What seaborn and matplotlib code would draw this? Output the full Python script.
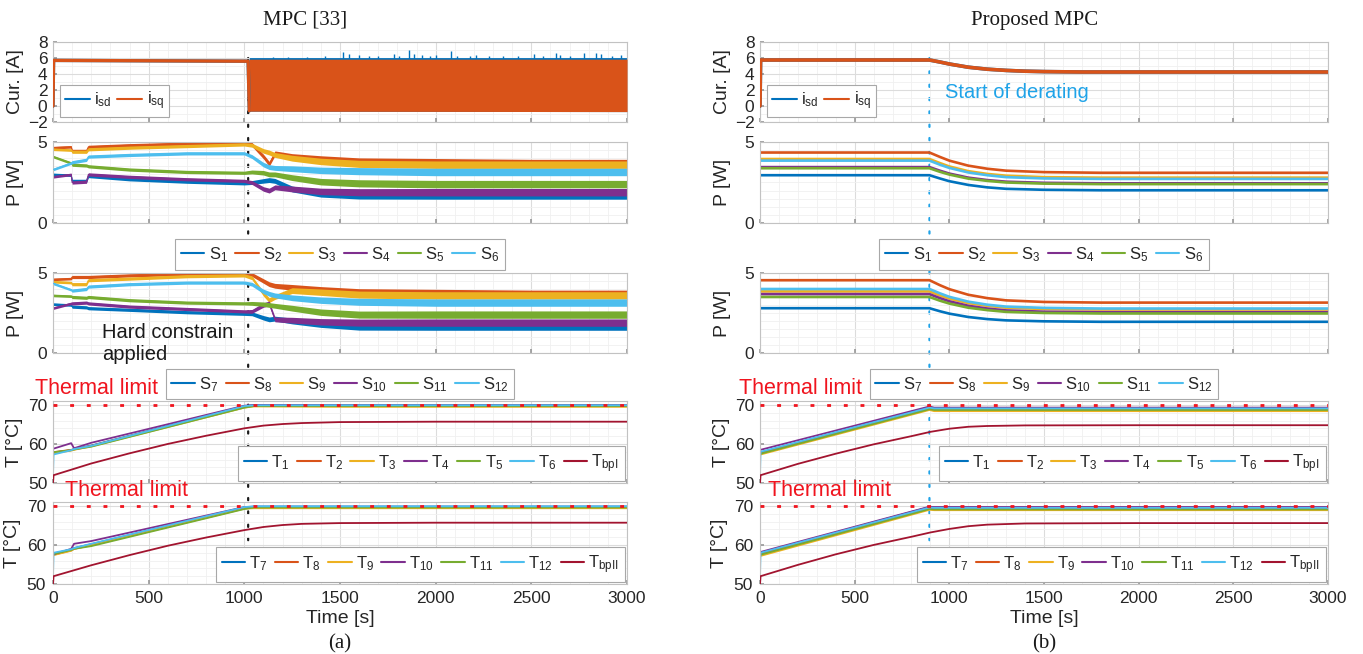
import numpy as np
import pandas as pd
import matplotlib
matplotlib.use("Agg")
import matplotlib.pyplot as plt
import seaborn as sns
from matplotlib.lines import Line2D
from matplotlib.patches import ConnectionPatch

sns.set_theme(style="white")
plt.rcParams["font.family"] = ["Liberation Sans", "DejaVu Sans"]
plt.rcParams["mathtext.fontset"] = "custom"
plt.rcParams["mathtext.rm"] = "Liberation Sans"
plt.rcParams["mathtext.it"] = "Liberation Sans:italic"

# MATLAB default colour order
C = ["#0072BD", "#D95319", "#EDB120", "#7E2F8E", "#77AC30", "#4DBEEE", "#A2142F"]
DERATE_BLUE = "#1FA3E8"
LIMIT_RED = "#F0141E"

# ---------------- data: MPC [33] (left) ----------------
T_SWITCH_L = 1020          # hard constraint applied [s]
T_DERATE_R = 895           # start of derating [s]

# current before the constraint (line) and after it (switching band)
T_CUR_L = [0, 3, 1020, 1026]
ISQ_L = [0.0, 5.7, 5.6, -0.6]
T_BAND_L = [1026, 3000]
ISQ_LO_L = [-0.65, -0.7]
ISQ_HI_L = [5.85, 5.85]
ISD_HI_L = [6.05, 6.05]
ISD_SPIKE_T = [1150, 1230, 1330, 1420, 1517, 1545, 1600, 1650, 1700, 1780, 1810, 1860,
               1885, 1930, 1970, 2000, 2078, 2110, 2180, 2210, 2280, 2350, 2430, 2513,
               2560, 2627, 2650, 2700, 2776, 2840, 2865, 2920, 2970]
ISD_SPIKE_V = [6.15, 6.1, 6.15, 6.2, 6.7, 6.5, 6.35, 6.3, 6.3, 6.5, 6.3, 7.0,
               6.5, 6.35, 6.3, 6.4, 6.9, 6.3, 6.3, 6.4, 6.3, 6.25, 6.3, 6.5,
               6.3, 6.6, 6.35, 6.3, 6.6, 6.6, 6.5, 6.3, 6.35]

# switch losses (band centre and half-width)
T_P_L = [0, 95, 100, 175, 185, 400, 700, 1000, 1040, 1100, 1130, 1160, 1250, 1400, 1600, 2000, 2500, 3000]
SPREAD_P_L = [0.08, 0.08, 0.1, 0.1, 0.1, 0.1, 0.1, 0.1, 0.12, 0.14, 0.15, 0.15, 0.18, 0.2, 0.22, 0.23, 0.23, 0.23]
S1_L = [3.0, 2.95, 2.6, 2.6, 2.9, 2.7, 2.55, 2.45, 2.5, 2.6, 2.65, 2.6, 2.1, 1.8, 1.7, 1.7, 1.7, 1.7]
S2_L = [4.65, 4.7, 4.45, 4.45, 4.7, 4.8, 4.9, 4.95, 4.85, 4.1, 3.65, 4.3, 4.1, 3.95, 3.8, 3.75, 3.7, 3.7]
S3_L = [4.55, 4.5, 4.4, 4.4, 4.55, 4.65, 4.75, 4.85, 4.8, 4.45, 4.35, 4.2, 4.0, 3.8, 3.65, 3.6, 3.6, 3.6]
S4_L = [2.85, 3.0, 2.5, 2.55, 3.0, 2.85, 2.7, 2.6, 2.5, 2.1, 2.0, 2.2, 2.1, 1.95, 1.9, 1.9, 1.9, 1.9]
S5_L = [4.1, 3.7, 3.6, 3.55, 3.5, 3.3, 3.15, 3.1, 3.15, 3.1, 3.0, 3.0, 2.8, 2.55, 2.45, 2.4, 2.4, 2.4]
S6_L = [3.3, 3.7, 3.75, 3.9, 4.1, 4.2, 4.3, 4.3, 4.1, 3.6, 3.45, 3.4, 3.35, 3.25, 3.2, 3.15, 3.15, 3.15]
S7_L = [3.05, 3.0, 2.9, 2.85, 2.8, 2.7, 2.55, 2.45, 2.45, 2.2, 2.1, 2.15, 2.0, 1.8, 1.65, 1.65, 1.65, 1.65]
S8_L = [4.6, 4.65, 4.75, 4.75, 4.75, 4.85, 4.95, 5.0, 4.9, 4.5, 4.3, 4.2, 4.1, 3.95, 3.8, 3.75, 3.7, 3.7]
S9_L = [4.45, 4.4, 4.3, 4.3, 4.55, 4.65, 4.8, 4.85, 4.7, 3.7, 3.3, 3.5, 3.9, 3.8, 3.65, 3.6, 3.6, 3.6]
S10_L = [2.8, 3.1, 3.1, 3.15, 3.1, 2.9, 2.75, 2.6, 2.6, 3.0, 3.1, 2.1, 2.05, 1.95, 1.9, 1.9, 1.9, 1.9]
S11_L = [3.6, 3.55, 3.5, 3.45, 3.5, 3.3, 3.15, 3.1, 3.1, 3.05, 3.0, 2.95, 2.8, 2.55, 2.4, 2.4, 2.4, 2.4]
S12_L = [4.35, 3.95, 3.9, 4.0, 4.15, 4.3, 4.4, 4.4, 4.3, 3.85, 3.7, 3.6, 3.45, 3.3, 3.2, 3.15, 3.15, 3.15]

# temperatures
T_T_L = [0, 3, 95, 110, 200, 1000, 1050, 1500, 3000]
T1_L = [57.8, 57.8, 58.4, 58.7, 59.6, 69.6, 69.9, 69.9, 69.9]
T2_L = [57.9, 57.9, 58.5, 58.6, 59.5, 69.5, 69.8, 69.8, 69.8]
T3_L = [57.6, 57.6, 58.3, 58.5, 59.4, 69.3, 69.6, 69.5, 69.5]
T4_L = [58.8, 58.8, 60.2, 58.9, 60.3, 69.8, 70.0, 69.9, 69.9]
T5_L = [57.9, 57.9, 58.4, 58.6, 59.3, 69.3, 69.7, 69.7, 69.7]
T6_L = [52.0, 57.3, 58.4, 58.7, 59.5, 69.7, 69.9, 69.9, 69.9]
T7_L = [57.8, 57.8, 58.8, 59.2, 60.2, 69.6, 69.8, 69.8, 69.8]
T8_L = [57.5, 57.5, 58.6, 59.0, 60.0, 69.5, 69.7, 69.7, 69.7]
T9_L = [57.4, 57.4, 58.5, 59.0, 59.9, 69.3, 69.4, 69.4, 69.4]
T10_L = [57.6, 57.6, 59.0, 60.3, 61.0, 69.7, 69.8, 69.8, 69.8]
T11_L = [57.7, 57.7, 58.7, 59.0, 59.7, 69.2, 69.6, 69.6, 69.6]
T12_L = [52.0, 58.0, 58.9, 59.2, 60.3, 69.7, 69.9, 69.9, 69.9]
T_BP_L = [0, 3, 200, 400, 600, 800, 1000, 1100, 1200, 1300, 1500, 2000, 3000]
TBPI_L = [50.0, 52.0, 55.0, 57.6, 60.0, 62.1, 64.0, 64.7, 65.1, 65.35, 65.6, 65.7, 65.7]
TBPII_L = [50.0, 52.0, 54.8, 57.4, 59.8, 61.9, 63.8, 64.6, 65.1, 65.4, 65.6, 65.7, 65.7]

# ---------------- data: proposed MPC (right) ----------------
T_CUR_R = [0, 3, 895, 950, 1000, 1100, 1200, 1300, 1400, 1500, 1700, 3000]
ISD_R = [0.0, 5.75, 5.75, 5.5, 5.25, 4.85, 4.6, 4.45, 4.35, 4.3, 4.25, 4.25]
ISQ_R = [0.0, 5.75, 5.75, 5.5, 5.25, 4.85, 4.6, 4.45, 4.35, 4.3, 4.25, 4.25]

T_P_R = [0, 895, 950, 1000, 1100, 1200, 1300, 1500, 1800, 3000]
S1_R = [2.95, 2.95, 2.75, 2.58, 2.35, 2.2, 2.11, 2.05, 2.02, 2.02]
S2_R = [4.35, 4.35, 4.08, 3.85, 3.54, 3.35, 3.23, 3.14, 3.1, 3.1]
S3_R = [3.95, 3.95, 3.7, 3.49, 3.2, 3.03, 2.92, 2.83, 2.8, 2.8]
S4_R = [3.45, 3.45, 3.23, 3.05, 2.8, 2.65, 2.55, 2.48, 2.45, 2.45]
S5_R = [3.38, 3.38, 3.16, 2.99, 2.74, 2.6, 2.5, 2.43, 2.4, 2.4]
S6_R = [3.85, 3.85, 3.6, 3.4, 3.12, 2.95, 2.83, 2.75, 2.72, 2.72]
S7_R = [2.8, 2.8, 2.61, 2.46, 2.25, 2.12, 2.04, 1.98, 1.95, 1.95]
S8_R = [4.55, 4.55, 4.24, 3.99, 3.64, 3.43, 3.29, 3.19, 3.15, 3.15]
S9_R = [3.85, 3.85, 3.6, 3.4, 3.12, 2.95, 2.83, 2.75, 2.72, 2.72]
S10_R = [3.68, 3.68, 3.43, 3.23, 2.95, 2.78, 2.66, 2.58, 2.55, 2.55]
S11_R = [3.5, 3.5, 3.27, 3.09, 2.83, 2.68, 2.57, 2.5, 2.47, 2.47]
S12_R = [4.0, 4.0, 3.73, 3.51, 3.21, 3.02, 2.9, 2.82, 2.78, 2.78]

T_T_R = [0, 3, 895, 920, 3000]
T1_R = [57.8, 57.8, 69.2, 69.0, 69.0]
T2_R = [57.6, 57.6, 69.0, 68.8, 68.8]
T3_R = [57.3, 57.3, 68.7, 68.4, 68.4]
T4_R = [58.5, 58.5, 69.6, 69.3, 69.3]
T5_R = [57.5, 57.5, 68.9, 68.7, 68.7]
T6_R = [52.0, 58.0, 69.3, 69.1, 69.1]
T7_R = [57.9, 57.9, 69.7, 69.6, 69.6]
T8_R = [57.6, 57.6, 69.4, 69.3, 69.3]
T9_R = [57.2, 57.2, 69.0, 68.9, 68.9]
T10_R = [58.2, 58.2, 69.8, 69.7, 69.7]
T11_R = [57.5, 57.5, 69.2, 69.1, 69.1]
T12_R = [52.0, 58.0, 69.6, 69.5, 69.5]
T_BP_R = [0, 3, 200, 400, 600, 800, 900, 1000, 1100, 1200, 1400, 2000, 3000]
TBPI_R = [50.0, 52.0, 54.9, 57.5, 59.9, 62.0, 63.1, 63.9, 64.4, 64.6, 64.75, 64.8, 64.8]
TBPII_R = [50.0, 52.0, 54.9, 57.6, 60.0, 62.1, 63.2, 64.1, 64.8, 65.2, 65.5, 65.6, 65.6]

THERMAL_LIMIT = 70

S_LABELS_A = [r"$\mathregular{S_{%d}}$" % i for i in range(1, 7)]
S_LABELS_B = [r"$\mathregular{S_{%d}}$" % i for i in range(7, 13)]
T_LABELS_A = [r"$\mathregular{T_{%d}}$" % i for i in range(1, 7)] + [r"$\mathregular{T_{bpI}}$"]
T_LABELS_B = [r"$\mathregular{T_{%d}}$" % i for i in range(7, 13)] + [r"$\mathregular{T_{bpII}}$"]
I_LABELS = [r"$\mathregular{i_{sd}}$", r"$\mathregular{i_{sq}}$"]

# ---------------- figure layout (pixel rows/cols) ----------------
W, H = 1363, 654
fig = plt.figure(figsize=(W / 100, H / 100), dpi=100)
fig.patch.set_facecolor("white")

COLS = [(53, 627), (760, 1328)]
ROWS = [(42, 122), (142, 223), (273, 353), (401, 483), (502, 584)]


def make_axes(col):
    x0, x1 = COLS[col]
    axs = []
    for (y0, y1) in ROWS:
        axs.append(fig.add_axes([x0 / W, 1 - y1 / H, (x1 - x0) / W, (y1 - y0) / H]))
    return axs


def style(ax, ylim, yticks, yminor, show_x=False):
    ax.set_xlim(0, 3000)
    ax.set_ylim(*ylim)
    ax.set_xticks(np.arange(0, 3001, 500))
    ax.set_xticks(np.arange(0, 3001, 100), minor=True)
    ax.set_yticks(yticks)
    ax.set_yticks(yminor, minor=True)
    ax.grid(which="major", color="#dcdcdc", lw=0.8)
    ax.grid(which="minor", color="#f0f0f0", lw=0.6)
    ax.set_axisbelow(True)
    ax.set_facecolor("none")
    for s in ax.spines.values():
        s.set_color("#c2c2c2")
        s.set_linewidth(0.8)
        s.set_visible(True)
    ax.tick_params(which="major", direction="in", length=3, color="#9a9a9a",
                   labelsize=12.5, labelcolor="#262626", pad=4, bottom=True, left=True)
    ax.tick_params(which="minor", length=0)
    ax.tick_params(labelbottom=show_x)
    ax.set_xlabel("")


def line(ax, t, y, color, lw=1.3, z=2):
    df = pd.DataFrame({"t": t, "y": y})
    sns.lineplot(data=df, x="t", y="y", ax=ax, color=color, lw=lw,
                 estimator=None, sort=False, legend=False, zorder=z)


def legend(ax, labels, colors, loc, anchor, ncol, hl=1.4, bpad=0.35, cs=0.45):
    hs = [Line2D([], [], color=c, lw=1.5) for c in colors]
    leg = ax.legend(hs, labels, loc=loc, bbox_to_anchor=anchor, ncol=ncol, fontsize=12,
                    frameon=True, fancybox=False, edgecolor="#a8a8a8", facecolor="white",
                    framealpha=1, handlelength=hl, handletextpad=0.25, columnspacing=cs,
                    borderpad=bpad, borderaxespad=0.15)
    leg.get_frame().set_linewidth(0.8)
    leg.set_zorder(10)
    return leg


def limit_line(ax):
    ax.axhline(THERMAL_LIMIT, color=LIMIT_RED, lw=2.0, ls=(0, (1.4, 4.6)), zorder=6)


def ylab(ax, text, pad):
    ax.set_ylabel(text, fontsize=14, color="#262626", labelpad=pad)


axL = make_axes(0)
axR = make_axes(1)

# ---------- left column ----------
ax = axL[0]
ax.fill_between(T_BAND_L, ISQ_LO_L, ISD_HI_L, color=C[0], lw=0, zorder=2)
ax.vlines(ISD_SPIKE_T, 5.9, ISD_SPIKE_V, color=C[0], lw=1.0, zorder=2)
ax.fill_between(T_BAND_L, ISQ_LO_L, ISQ_HI_L, color=C[1], lw=0, zorder=3)
line(ax, T_CUR_L, ISQ_L, C[0], lw=2.4, z=3)
line(ax, T_CUR_L, ISQ_L, C[1], lw=2.4, z=4)
style(ax, (-2, 8), [-2, 0, 2, 4, 6, 8], np.arange(-2, 8.1, 1))
ylab(ax, "Cur. [A]", 3)
legend(ax, I_LABELS, C[:2], "lower left", (0.008, 0.03), 2, hl=1.5, cs=0.35, bpad=0.3)

for ax, series in ((axL[1], [S1_L, S2_L, S3_L, S4_L, S5_L, S6_L]),
                   (axL[2], [S7_L, S8_L, S9_L, S10_L, S11_L, S12_L])):
    for k, s in enumerate(series):
        c = np.array(s)
        sp = np.array(SPREAD_P_L)
        ax.fill_between(T_P_L, c - sp, c + sp, color=C[k], lw=0, zorder=2 + k * 0.1)
        line(ax, T_P_L, s, C[k], lw=0.8, z=2.05 + k * 0.1)
    style(ax, (0, 5), [0, 5], np.arange(0, 5.01, 0.5))
    ylab(ax, "P [W]", 10)
legend(axL[1], S_LABELS_A, C[:6], "upper center", (0.5, -0.17), 6)
legend(axL[2], S_LABELS_B, C[:6], "upper center", (0.5, -0.17), 6)
axL[2].text(255, 1.9, "Hard constrain\napplied", fontsize=14.5, color="#1a1a1a",
            ha="left", va="top", linespacing=1.25, clip_on=False, zorder=8)

for ax, series, bp, labels in ((axL[3], [T1_L, T2_L, T3_L, T4_L, T5_L, T6_L], TBPI_L, T_LABELS_A),
                               (axL[4], [T7_L, T8_L, T9_L, T10_L, T11_L, T12_L], TBPII_L, T_LABELS_B)):
    for k, s in enumerate(series):
        line(ax, T_T_L, s, C[k], lw=1.3, z=2 + k * 0.1)
    line(ax, T_BP_L, bp, C[6], lw=1.3, z=3)
    limit_line(ax)
    style(ax, (50, 71), [50, 60, 70], np.arange(50, 71, 2))
    ylab(ax, "T [°C]", 4)
    legend(ax, labels, C, "lower right", (1, 0), 7)

axL[4].tick_params(labelbottom=True, pad=5)
axL[4].set_xlabel("Time [s]", fontsize=14, color="#262626", labelpad=3)

# ---------- right column ----------
ax = axR[0]
line(ax, T_CUR_R, ISD_R, C[0], lw=2.6, z=3)
line(ax, T_CUR_R, ISQ_R, C[1], lw=2.6, z=4)
style(ax, (-2, 8), [-2, 0, 2, 4, 6, 8], np.arange(-2, 8.1, 1))
ylab(ax, "Cur. [A]", 3)
legend(ax, I_LABELS, C[:2], "lower left", (0.008, 0.03), 2, hl=1.5, cs=0.35, bpad=0.3)
ax.text(975, 1.75, "Start of derating", fontsize=14.5, color=DERATE_BLUE,
        ha="left", va="center", zorder=8)

for ax, series in ((axR[1], [S1_R, S2_R, S3_R, S4_R, S5_R, S6_R]),
                   (axR[2], [S7_R, S8_R, S9_R, S10_R, S11_R, S12_R])):
    for k, s in enumerate(series):
        line(ax, T_P_R, s, C[k], lw=1.9, z=2 + k * 0.1)
    style(ax, (0, 5), [0, 5], np.arange(0, 5.01, 0.5))
    ylab(ax, "P [W]", 10)
legend(axR[1], S_LABELS_A, C[:6], "upper center", (0.5, -0.17), 6)
legend(axR[2], S_LABELS_B, C[:6], "upper center", (0.5, -0.17), 6)

for ax, series, bp, labels in ((axR[3], [T1_R, T2_R, T3_R, T4_R, T5_R, T6_R], TBPI_R, T_LABELS_A),
                               (axR[4], [T7_R, T8_R, T9_R, T10_R, T11_R, T12_R], TBPII_R, T_LABELS_B)):
    for k, s in enumerate(series):
        line(ax, T_T_R, s, C[k], lw=1.3, z=2 + k * 0.1)
    line(ax, T_BP_R, bp, C[6], lw=1.3, z=3)
    limit_line(ax)
    style(ax, (50, 71), [50, 60, 70], np.arange(50, 71, 2))
    ylab(ax, "T [°C]", 4)
    legend(ax, labels, C, "lower right", (1, 0), 7)

axR[4].tick_params(labelbottom=True, pad=5)
axR[4].set_xlabel("Time [s]", fontsize=14, color="#262626", labelpad=3)

# vertical event markers running through all panels of a column
for axs, tx, col in ((axL, T_SWITCH_L, "#1a1a1a"), (axR, T_DERATE_R, DERATE_BLUE)):
    con = ConnectionPatch(xyA=(tx, 6.0), coordsA=axs[0].transData,
                          xyB=(tx, 50), coordsB=axs[4].transData,
                          color=col, lw=1.6, linestyle=(0, (1, 5)), zorder=-1)
    fig.add_artist(con)

# "Thermal limit" captions
for px, py in ((35, 389), (65, 491), (739, 389), (768, 491)):
    fig.text(px / W, 1 - py / H, "Thermal limit", fontsize=15.5, color=LIMIT_RED,
             ha="left", va="center")

# column titles and sub-captions
fig.text(305 / W, 1 - 20 / H, "MPC [33]", fontsize=15, family="Liberation Serif",
         ha="center", va="center", color="#1a1a1a")
fig.text(1035 / W, 1 - 20 / H, "Proposed MPC", fontsize=15, family="Liberation Serif",
         ha="center", va="center", color="#1a1a1a")
fig.text(340 / W, 1 - 644 / H, "(a)", fontsize=15, family="Liberation Serif",
         ha="center", va="center", color="#1a1a1a")
fig.text(1044 / W, 1 - 644 / H, "(b)", fontsize=15, family="Liberation Serif",
         ha="center", va="center", color="#1a1a1a")

fig.savefig("out.png", dpi=100, facecolor="white")
